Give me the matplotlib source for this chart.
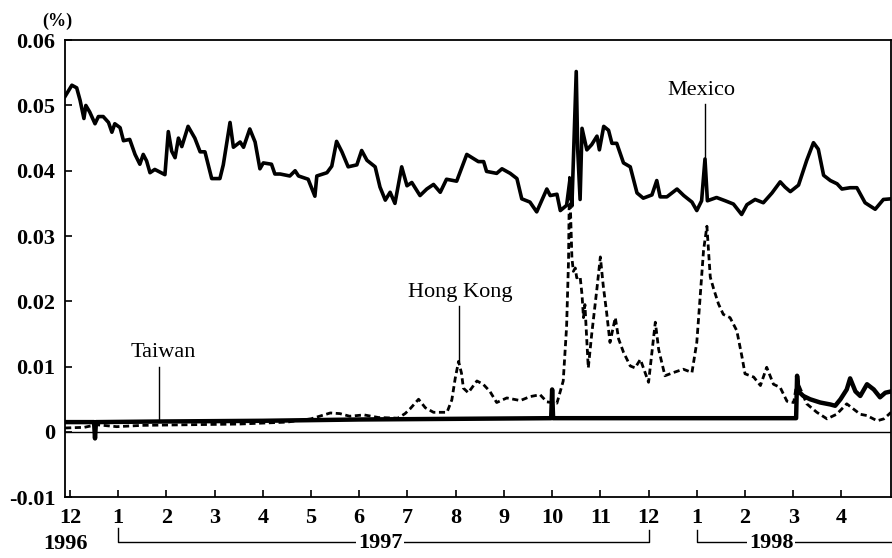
import numpy as np
import matplotlib.pyplot as plt

plt.rcParams['font.family'] = ['Liberation Serif', 'DejaVu Serif']

# x = months counted from Dec 1996 (0 = 12/1996, 13 = 1/1998), y = (%)
mexico_m = [-0.10, 0.04, 0.14, 0.21, 0.29, 0.33, 0.41, 0.52, 0.59, 0.69, 0.80, 0.87, 0.93,
            1.04, 1.11, 1.24, 1.35, 1.45, 1.52, 1.59, 1.66, 1.76, 1.97, 2.04, 2.11, 2.18,
            2.25, 2.32, 2.45, 2.59, 2.70, 2.80, 2.94, 3.11, 3.18, 3.32, 3.39, 3.53, 3.60,
            3.73, 3.84, 3.94, 4.01, 4.18, 4.25, 4.36, 4.56, 4.67, 4.74, 4.94, 5.08, 5.12,
            5.33, 5.43, 5.53, 5.64, 5.77, 5.95, 6.05, 6.16, 6.33, 6.43, 6.54, 6.64, 6.74,
            6.88, 6.99, 7.09, 7.26, 7.40, 7.54, 7.68, 7.81, 8.02, 8.23, 8.47, 8.58, 8.64,
            8.85, 8.96, 9.13, 9.27, 9.37, 9.54, 9.68, 9.89, 9.96, 10.10, 10.17, 10.30,
            10.37, 10.41, 10.50, 10.53, 10.58, 10.62, 10.72, 10.82, 10.93, 10.98, 11.07,
            11.17, 11.24, 11.34, 11.48, 11.62, 11.76, 11.89, 12.07, 12.17, 12.24, 12.38,
            12.59, 12.73, 12.90, 13.00, 13.10, 13.17, 13.22, 13.41, 13.59, 13.76, 13.93,
            14.04, 14.21, 14.38, 14.56, 14.73, 14.83, 14.94, 15.11, 15.28, 15.42, 15.52,
            15.63, 15.77, 15.91, 16.01, 16.18, 16.32, 16.49, 16.70, 16.87, 17.03]
mexico_v = [0.0514, 0.0531, 0.0527, 0.0508, 0.0480, 0.0500, 0.0490, 0.0472, 0.0483, 0.0483,
            0.0474, 0.0459, 0.0472, 0.0466, 0.0446, 0.0448, 0.0425, 0.0410, 0.0425, 0.0415,
            0.0397, 0.0402, 0.0394, 0.0460, 0.0430, 0.0420, 0.0450, 0.0437, 0.0468, 0.0450,
            0.0429, 0.0429, 0.0388, 0.0388, 0.0409, 0.0474, 0.0436, 0.0444, 0.0436, 0.0464,
            0.0444, 0.0403, 0.0412, 0.0410, 0.0395, 0.0395, 0.0392, 0.0400, 0.0392, 0.0387,
            0.0361, 0.0392, 0.0397, 0.0407, 0.0445, 0.0429, 0.0406, 0.0409, 0.0431, 0.0416,
            0.0406, 0.0375, 0.0355, 0.0367, 0.0350, 0.0406, 0.0377, 0.0382, 0.0362, 0.0372,
            0.0379, 0.0367, 0.0387, 0.0384, 0.0425, 0.0414, 0.0414, 0.0399, 0.0396, 0.0403,
            0.0396, 0.0388, 0.0357, 0.0352, 0.0337, 0.0372, 0.0362, 0.0364, 0.0339, 0.0347,
            0.0387, 0.0346, 0.0552, 0.0433, 0.0356, 0.0465, 0.0432, 0.0440, 0.0453, 0.0432,
            0.0468, 0.0462, 0.0442, 0.0442, 0.0412, 0.0406, 0.0366, 0.0358, 0.0363, 0.0385,
            0.0360, 0.0360, 0.0372, 0.0362, 0.0352, 0.0339, 0.0354, 0.0418, 0.0354, 0.0359,
            0.0354, 0.0349, 0.0333, 0.0348, 0.0356, 0.0351, 0.0366, 0.0383, 0.0375, 0.0368,
            0.0378, 0.0416, 0.0443, 0.0433, 0.0393, 0.0385, 0.0380, 0.0372, 0.0374, 0.0374,
            0.0351, 0.0341, 0.0356, 0.0357]

hk_m = [-0.10, 0.30, 0.55, 0.97, 1.50, 2.50, 3.50, 4.50, 5.00, 5.40, 5.60, 5.80, 6.10, 6.40,
        6.80, 6.95, 7.05, 7.23, 7.37, 7.54, 7.82, 7.92, 7.99, 8.06, 8.12, 8.16, 8.26, 8.44,
        8.57, 8.71, 8.85, 9.06, 9.34, 9.54, 9.75, 9.89, 10.10, 10.23, 10.30, 10.34, 10.36,
        10.41, 10.44, 10.48, 10.51, 10.58, 10.62, 10.65, 10.68, 10.72, 10.75, 10.82, 10.93,
        11.00, 11.06, 11.13, 11.20, 11.31, 11.38, 11.48, 11.62, 11.72, 11.83, 12.00, 12.14,
        12.21, 12.34, 12.52, 12.72, 12.90, 13.00, 13.07, 13.14, 13.21, 13.25, 13.28, 13.35,
        13.45, 13.55, 13.69, 13.83, 13.94, 14.00, 14.18, 14.32, 14.45, 14.59, 14.73, 14.87,
        15.01, 15.08, 15.28, 15.49, 15.70, 15.90, 16.11, 16.25, 16.39, 16.53, 16.74, 16.88,
        17.03]
hk_v = [0.0006, 0.0007, 0.0011, 0.0008, 0.0010, 0.0011, 0.0012, 0.0015, 0.0020, 0.0029,
        0.0028, 0.0024, 0.0026, 0.0022, 0.0021, 0.0028, 0.0035, 0.0050, 0.0037, 0.0030,
        0.0030, 0.0049, 0.0082, 0.0108, 0.0090, 0.0067, 0.0060, 0.0078, 0.0073, 0.0062,
        0.0045, 0.0052, 0.0048, 0.0054, 0.0057, 0.0046, 0.0044, 0.0078, 0.0161, 0.0262,
        0.0390, 0.0267, 0.0246, 0.0251, 0.0236, 0.0238, 0.0210, 0.0175, 0.0195, 0.0139,
        0.0098, 0.0149, 0.0220, 0.0268, 0.0224, 0.0183, 0.0137, 0.0175, 0.0142, 0.0122,
        0.0101, 0.0098, 0.0111, 0.0076, 0.0168, 0.0126, 0.0086, 0.0091, 0.0096, 0.0091,
        0.0137, 0.0207, 0.0278, 0.0315, 0.0270, 0.0237, 0.0219, 0.0196, 0.0180, 0.0175,
        0.0155, 0.0114, 0.0089, 0.0084, 0.0071, 0.0099, 0.0073, 0.0068, 0.0047, 0.0045,
        0.0078, 0.0043, 0.0030, 0.0020, 0.0027, 0.0043, 0.0035, 0.0027, 0.0025, 0.0017,
        0.0020, 0.0030]

taiwan_m = [-0.10, 0.50, 0.52, 0.54, 2.00, 4.00, 6.00, 8.00, 9.98, 10.00, 10.02, 12.00,
            14.00, 15.06, 15.08, 15.11, 15.21, 15.35, 15.56, 15.77, 15.87, 15.98, 16.11,
            16.18, 16.29, 16.39, 16.53, 16.67, 16.80, 16.91, 17.03]
taiwan_v = [0.0015, 0.0015, -0.0010, 0.0015, 0.0016, 0.0017, 0.0019, 0.0020, 0.0021, 0.0065,
            0.0021, 0.0021, 0.0021, 0.0021, 0.0086, 0.0062, 0.0055, 0.0050, 0.0045, 0.0042,
            0.0040, 0.0050, 0.0065, 0.0082, 0.0062, 0.0055, 0.0073, 0.0065, 0.0053, 0.0060,
            0.0062]

month_labels = ['12', '1', '2', '3', '4', '5', '6', '7', '8', '9', '10', '11', '12',
                '1', '2', '3', '4']
ytick_vals = [-0.01, 0, 0.01, 0.02, 0.03, 0.04, 0.05, 0.06]
ytick_labels = ['-0.01', '0', '0.01', '0.02', '0.03', '0.04', '0.05', '0.06']

fig = plt.figure(figsize=(8.92, 5.58), dpi=100)
ax = fig.add_axes([0.073, 0.109, 0.926, 0.819])

ax.axhline(0, color='black', lw=1.0)
ax.plot(taiwan_m, taiwan_v, color='black', lw=3.2, solid_joinstyle='round')
ax.plot(hk_m, hk_v, color='black', lw=2.0, linestyle=(0, (2.2, 1.3)))
ax.plot(mexico_m, mexico_v, color='black', lw=2.6, solid_joinstyle='round')

ax.set_xlim(-0.10, 17.03)
ax.set_ylim(-0.01, 0.06)
ax.set_xticks(range(len(month_labels)))
ax.set_xticklabels(month_labels, fontsize=16, fontweight='bold')
ax.set_yticks(ytick_vals)
ax.set_yticklabels(ytick_labels, fontsize=16, fontweight='bold')
ax.tick_params(axis='both', direction='in', length=5, width=1.2)
ax.tick_params(axis='x', pad=8)
ax.tick_params(axis='y', pad=7)
for s in ax.spines.values():
    s.set_linewidth(1.3)

# series labels with leader lines
ax.text(13.1, 0.0523, 'Mexico', fontsize=16, ha='center', va='center')
ax.plot([13.17, 13.17], [0.0503, 0.0418], color='black', lw=1)
ax.text(8.09, 0.0213, 'Hong Kong', fontsize=16, ha='center', va='center')
ax.plot([8.06, 8.06], [0.0193, 0.0108], color='black', lw=1)
ax.text(1.93, 0.0121, 'Taiwan', fontsize=16, ha='center', va='center')
ax.plot([1.85, 1.85], [0.0100, 0.0018], color='black', lw=1)

# year brackets under the month labels
tr = ax.get_xaxis_transform()
ax.plot([1, 1, 12, 12], [-0.068, -0.0985, -0.0985, -0.072], color='black', lw=1,
        transform=tr, clip_on=False)
ax.plot([13, 13, 17.03], [-0.072, -0.0985, -0.0985], color='black', lw=1,
        transform=tr, clip_on=False)
box = dict(facecolor='white', edgecolor='none', pad=1)
ax.text(-0.1, -0.103, '1996', fontsize=16, fontweight='bold', ha='center', va='center',
        transform=tr)
ax.text(6.43, -0.1, '1997', fontsize=16, fontweight='bold', ha='center', va='center',
        transform=tr, bbox=box)
ax.text(14.54, -0.1, '1998', fontsize=16, fontweight='bold', ha='center', va='center',
        transform=tr, bbox=box)

fig.text(0.064, 0.961, '(%)', fontsize=13, fontweight='bold', ha='center', va='center')

fig.savefig('out.png', dpi=100)
